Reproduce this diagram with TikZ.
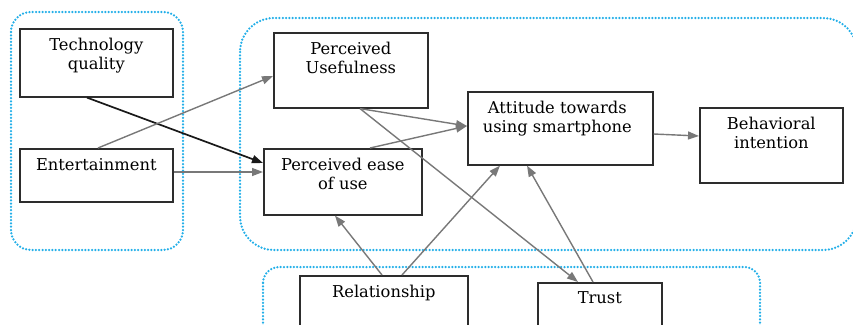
\documentclass[tikz,border=0pt]{standalone}
\usepackage{fontspec}
\setmainfont{DejaVu Serif}
\usetikzlibrary{arrows.meta,calc}
\definecolor{grpblue}{RGB}{35,175,232}
\definecolor{boxline}{RGB}{45,45,45}
\definecolor{linkgray}{RGB}{120,120,120}
\begin{document}
\begin{tikzpicture}[x=1pt,y=-1pt,
  group/.style={draw=grpblue, line width=2.5pt, line cap=round,
                dash pattern=on 0pt off 3.3pt},
  box/.style={draw=boxline, line width=1.6pt, fill=white, inner sep=0pt,
              anchor=north west},
  lbl/.style={anchor=base, align=center, inner sep=0pt,
              font=\fontsize{16.3}{19}\selectfont, text=black},
  link/.style={draw=linkgray, line width=1.4pt,
               -{Triangle[length=11pt,width=8pt]}},
  strong/.style={draw=black!90, line width=1.7pt,
                 -{Triangle[length=11pt,width=8pt]}}]
\clip (0,0) rectangle (853,324);

% dotted groupings
\draw[group, rounded corners=20pt] (11,12) rectangle (183,250);
\draw[group, rounded corners=34pt] (240,18) rectangle (857,250);
\draw[group, rounded corners=16pt] (263,267) rectangle (760,345);

% construct boxes
\node[box, minimum width=153pt, minimum height=68pt] (tq)   at (19,28)  {};
\node[box, minimum width=153pt, minimum height=53pt] (ent)  at (19,148) {};
\node[box, minimum width=154pt, minimum height=75pt] (pu)   at (273,32) {};
\node[box, minimum width=158pt, minimum height=66pt] (peou) at (263,148) {};
\node[box, minimum width=185pt, minimum height=73pt] (att)  at (467,91) {};
\node[box, minimum width=143pt, minimum height=75pt] (bi)   at (699,107) {};
\node[box, minimum width=168pt, minimum height=70pt] (rel)  at (299,275) {};
\node[box, minimum width=124pt, minimum height=70pt] (tr)   at (537,282) {};

% box captions (base anchor sits on the last line)
\node[lbl] (tq-t)   at ($(tq.north)+(0,41)$)   {Technology\\quality};
\node[lbl] (ent-t)  at ($(ent.north)+(0,22)$)  {Entertainment};
\node[lbl] (pu-t)   at ($(pu.north)+(0,41)$)   {Perceived\\Usefulness};
\node[lbl] (peou-t) at ($(peou.north)+(0,41)$) {Perceived ease\\of use};
\node[lbl] (att-t)  at ($(att.north)+(-3,41)$) {Attitude towards\\using smartphone};
\node[lbl] (bi-t)   at ($(bi.north)+(0,41)$)   {Behavioral\\intention};
\node[lbl] (rel-t)  at ($(rel.north)+(0,22)$)  {Relationship};
\node[lbl] (tr-t)   at ($(tr.north)+(0,21)$)   {Trust};

% relationships
\draw[strong] ($(tq.south west)+(68,0)$) -- ($(peou.north west)+(0,15)$);
\draw[link] ($(ent.north west)+(79,0)$) -- ($(pu.north west)+(0,44)$);
\draw[link] ($(ent.north east)+(0,24)$) -- ($(peou.north west)+(0,24)$);
\draw[link] ($(pu.south west)+(87,0)$) -- ($(att.north west)+(0,35)$);
\draw[link] ($(peou.north west)+(107,0)$) -- ($(att.north west)+(0,35)$);
\draw[link] ($(pu.south west)+(87,0)$) -- ($(tr.north west)+(41,0)$);
\draw[link] ($(att.north east)+(0,43)$) -- ($(bi.north west)+(0,29)$);
\draw[link] ($(rel.north west)+(83,0)$) -- ($(peou.south west)+(72,0)$);
\draw[link] ($(rel.north west)+(103,0)$) -- ($(att.south west)+(33,0)$);
\draw[link] ($(tr.north west)+(56,0)$) -- ($(att.south west)+(60,0)$);
\end{tikzpicture}
\end{document}
